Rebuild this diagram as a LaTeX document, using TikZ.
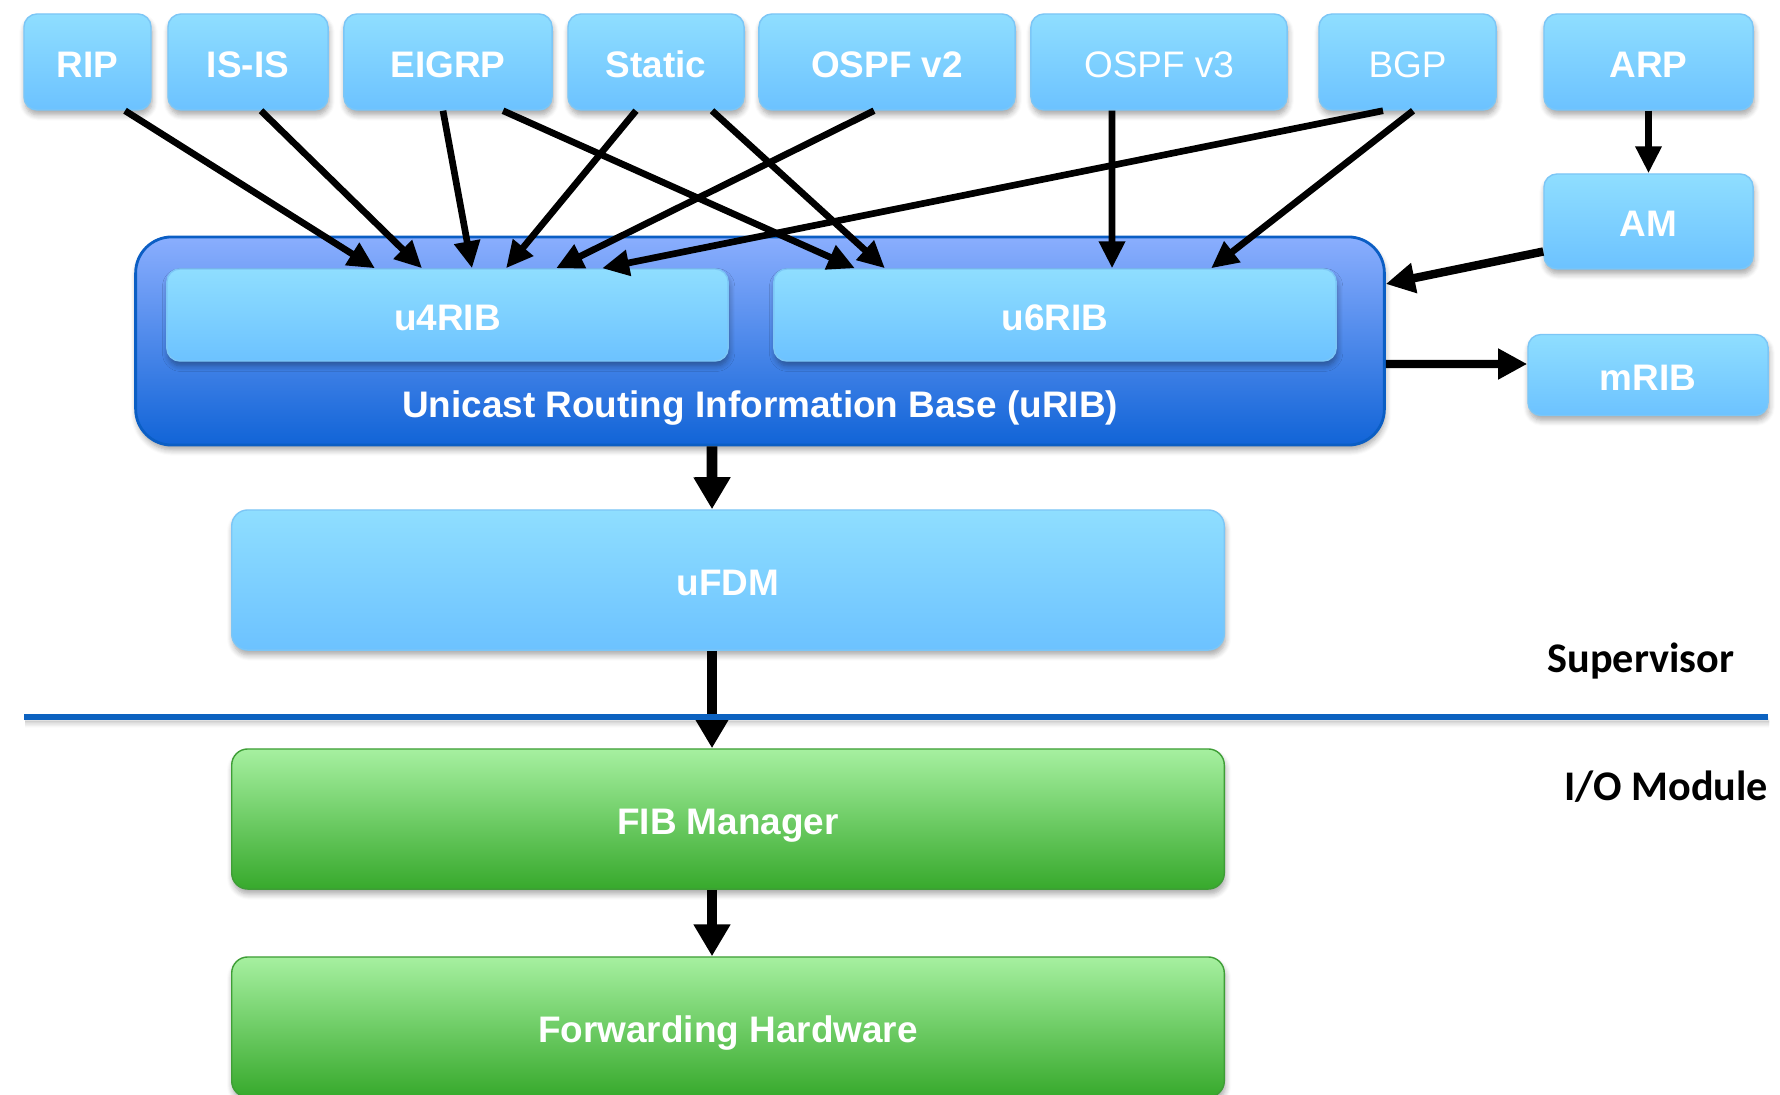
\documentclass[tikz,border=0pt]{standalone}
\usepackage{fontspec}
\setmainfont{Liberation Sans}
\newfontfamily\sidefont{Carlito}
\usetikzlibrary{arrows.meta,shadows.blur}
\definecolor{SkyTop}{HTML}{8FDEFF}
\definecolor{SkyBot}{HTML}{6CC2FF}
\definecolor{SkyEdge}{HTML}{7CC6F6}
\definecolor{RibTop}{HTML}{8AAEFE}
\definecolor{RibBot}{HTML}{1164D7}
\definecolor{RibEdge}{HTML}{0B5EC4}
\definecolor{LeafTop}{HTML}{A6F0A0}
\definecolor{LeafBot}{HTML}{37A92C}
\definecolor{LeafEdge}{HTML}{3E9E36}
\definecolor{Rule}{HTML}{0C62C0}

\begin{document}
\begin{tikzpicture}[x=.01cm,y=-.01cm,
soft/.style={blur shadow={shadow blur steps=6,shadow xshift=.3pt,shadow yshift=-1.4pt,shadow blur radius=1.6pt,shadow opacity=35}},
proto/.style={soft,draw=SkyEdge,rounded corners=.13cm,top color=SkyTop,bottom color=SkyBot,text=white,font=\fontsize{10.5}{12}\selectfont\bfseries,minimum height=.96cm,inner sep=0pt,text height=.86em,text depth=0pt},
thinproto/.style={proto,font=\fontsize{10.5}{12}\selectfont},
ribbox/.style={soft,draw=RibEdge,rounded corners=.36cm,top color=RibTop,bottom color=RibBot,line width=.8pt},
hw/.style={proto,draw=LeafEdge,top color=LeafTop,bottom color=LeafBot,rounded corners=.16cm,minimum height=1.4cm},
side/.style={font=\sidefont\fontsize{12}{14}\selectfont\bfseries,text height=.64em,text depth=0pt,inner sep=0pt},
arrow/.style={-{Triangle[length=2.7mm,width=2.5mm]},line width=1.9pt},
midarrow/.style={-{Triangle[length=2.9mm,width=2.9mm]},line width=2.4pt},
fat/.style={-{Triangle[length=3.2mm,width=3.5mm]},line width=3pt}]
\useasboundingbox (0,0) rectangle (1780,1094);
% protocols
\node[proto,minimum width=1.27cm](rip) at (87.5,62){RIP};
\node[proto,minimum width=1.60cm](isis) at (248,62){IS-IS};
\node[proto,minimum width=2.08cm](eigrp) at (448,62){EIGRP};
\node[proto,minimum width=1.76cm](static) at (656,62){Static};
\node[proto,minimum width=2.56cm](ospftwo) at (887,62){OSPF v2};
\node[thinproto,minimum width=2.56cm](ospfthree) at (1159,62){OSPF v3};
\node[thinproto,minimum width=1.77cm](bgp) at (1407.5,62){BGP};
\node[proto,minimum width=2.09cm](arp) at (1648.5,62){ARP};
\node[proto,minimum width=2.09cm,minimum height=.95cm](am) at (1648.5,221.5){AM};
\node[proto,minimum width=2.40cm,minimum height=.81cm](mrib) at (1648,375){mRIB};
% uRIB
\node[ribbox,minimum width=12.48cm,minimum height=2.08cm](urib) at (760,341){};
\node[proto,minimum width=5.61cm,minimum height=.92cm](ufour) at (447.5,315){u4RIB};
\node[proto,minimum width=5.62cm,minimum height=.92cm](usix) at (1055,315){u6RIB};
\node[text=white,font=\fontsize{10.5}{12}\selectfont\bfseries,text height=.72em,text depth=0pt,inner sep=0pt](uribtext) at (760,405){Unicast Routing Information Base (uRIB)};
% forwarding
\node[proto,minimum width=9.92cm,minimum height=1.4cm,rounded corners=.16cm](ufdm) at (728,580){uFDM};
\node[hw,minimum width=9.92cm](fib) at (728,819){FIB Manager};
\node[hw,minimum width=9.92cm](fwd) at (728,1027){Forwarding Hardware};
\node[side](sup) at (1641,661){Supervisor};
\node[side](iom) at (1666,789){I/O Module};
% routes into the RIBs
\draw[arrow]([xshift=.375cm]rip.south)--([xshift=-.725cm]ufour.north);
\draw[arrow]([xshift=.13cm]isis.south)--([xshift=-.255cm]ufour.north);
\draw[arrow]([xshift=-.05cm]eigrp.south)--([xshift=.245cm]ufour.north);
\draw[arrow]([xshift=.55cm]eigrp.south)--([xshift=-2cm]usix.north);
\draw[arrow]([xshift=-.2cm]static.south)--([xshift=.585cm]ufour.north);
\draw[arrow]([xshift=.56cm]static.south)--([xshift=-1.7cm]usix.north);
\draw[arrow]([xshift=-.13cm]ospftwo.south)--([xshift=1.085cm]ufour.north);
\draw[arrow]([xshift=-.47cm]ospfthree.south)--([xshift=.57cm]usix.north);
\draw[arrow]([xshift=-.245cm]bgp.south)--([xshift=1.545cm]ufour.north);
\draw[arrow]([xshift=.055cm]bgp.south)--([xshift=1.56cm]usix.north);
\draw[arrow](arp)--(am);
\draw[midarrow]([yshift=-.3cm]am.west)--([yshift=.57cm]urib.east);
\draw[midarrow]([yshift=-.23cm]urib.east)--([yshift=.11cm]mrib.west);
% down to the hardware
\draw[fat]([xshift=-.48cm]urib.south)--([xshift=-.16cm]ufdm.north);
\draw[fat]([xshift=-.16cm]ufdm.south)--([xshift=-.16cm]fib.north);
\draw[fat]([xshift=-.16cm]fib.south)--([xshift=-.16cm]fwd.north);
\draw[soft,Rule,line width=1.6pt](24,717)--(1768,717);
\end{tikzpicture}
\end{document}
